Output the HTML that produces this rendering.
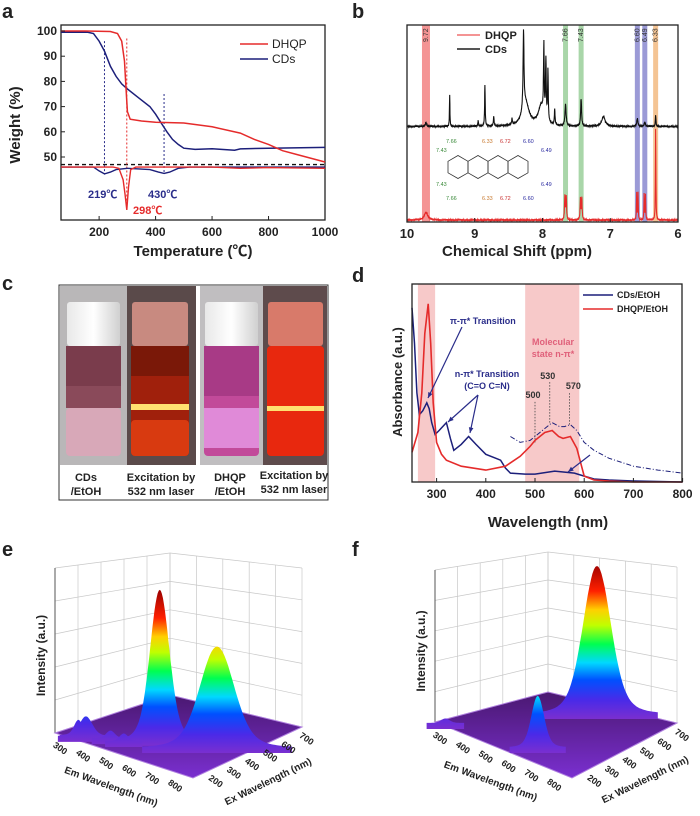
<!DOCTYPE html>
<html><head><meta charset="utf-8"><style>
html,body{margin:0;padding:0;background:#fff;}
svg{display:block;font-family:"Liberation Sans","Noto Sans CJK SC",sans-serif;}
.t{font-weight:bold;fill:#222;}
</style></head><body>
<svg id="fig" width="700" height="816" viewBox="0 0 700 816" xmlns="http://www.w3.org/2000/svg">
<defs>
<linearGradient id="capG" x1="0" x2="1"><stop offset="0" stop-color="#e8e8e8"/><stop offset="0.5" stop-color="#ffffff"/><stop offset="1" stop-color="#d0d0d0"/></linearGradient>
<linearGradient id="floorE" x1="0" y1="0" x2="0" y2="1"><stop offset="0" stop-color="#4a1870"/><stop offset="1" stop-color="#7a2fd0"/></linearGradient>
</defs>
<text class="t" x="2" y="18" font-size="20">a</text>
<text class="t" x="352" y="18" font-size="20">b</text>
<text class="t" x="2" y="290" font-size="20">c</text>
<text class="t" x="352" y="282" font-size="20">d</text>
<text class="t" x="2" y="556" font-size="20">e</text>
<text class="t" x="352" y="556" font-size="20">f</text>

<g id="pa">
<rect x="61" y="25" width="264" height="195" fill="none" stroke="#222" stroke-width="1.3"/>
<text class="t" x="20" y="125" font-size="15" transform="rotate(-90 20 125)" text-anchor="middle">Weight (%)</text>
<text class="t" x="193" y="256" font-size="15" text-anchor="middle">Temperature (℃)</text>
<line x1="240" y1="44" x2="268" y2="44" stroke="#e52b2b" stroke-width="1.5"/>
<text x="272" y="48" font-size="12" fill="#222">DHQP</text>
<line x1="240" y1="59" x2="268" y2="59" stroke="#1c1f7a" stroke-width="1.5"/>
<text x="272" y="63" font-size="12" fill="#222">CDs</text>
<text class="t" x="88" y="198" font-size="11" style="fill:#2a2d8a">219℃</text>
<text class="t" x="148" y="198" font-size="11" style="fill:#2a2d8a">430℃</text>
<text class="t" x="133" y="214" font-size="11" style="fill:#e52b2b">298℃</text>
</g>

<g id="pb">
<text class="t" x="517" y="256" font-size="15" text-anchor="middle">Chemical Shift (ppm)</text>
</g>

<g id="pc">
<rect x="59" y="285" width="269" height="215" fill="#fff" stroke="#333" stroke-width="1"/>
<rect x="60" y="286" width="67" height="179" fill="#b9b7b8"/>
<rect x="127" y="286" width="69" height="179" fill="#5a4a4a"/>
<rect x="200" y="286" width="63" height="179" fill="#c0bec0"/>
<rect x="263" y="286" width="64" height="179" fill="#5e4b4c"/>
<rect x="67" y="302" width="53" height="44" rx="3" fill="url(#capG)"/>
<rect x="66" y="346" width="55" height="40" fill="#7a3c4c"/>
<rect x="66" y="386" width="55" height="22" fill="#8a4a5a"/>
<rect x="66" y="408" width="55" height="48" rx="4" fill="#d8a8b8"/>
<rect x="132" y="302" width="56" height="44" rx="3" fill="#c88a80"/>
<rect x="131" y="346" width="58" height="110" rx="4" fill="#a0200c"/>
<rect x="131" y="346" width="58" height="30" fill="#7a1808"/>
<rect x="131" y="420" width="58" height="36" rx="4" fill="#d83a10"/>
<rect x="131" y="404" width="58" height="6" fill="#ffe070"/>
<rect x="205" y="302" width="53" height="44" rx="3" fill="url(#capG)"/>
<rect x="204" y="346" width="55" height="110" rx="4" fill="#c24a9a"/>
<rect x="204" y="346" width="55" height="50" fill="#a83a86"/>
<rect x="204" y="408" width="55" height="40" fill="#e08ad8"/>
<rect x="268" y="302" width="55" height="44" rx="3" fill="#d87a6a"/>
<rect x="267" y="346" width="57" height="110" rx="4" fill="#e8280e"/>
<rect x="267" y="406" width="57" height="5" fill="#ffe070"/>
<g font-size="11" font-weight="bold" fill="#222" text-anchor="middle">
<text x="86" y="481">CDs</text>
<text x="86" y="495">/EtOH</text>
<text x="161" y="481">Excitation by</text>
<text x="161" y="495">532 nm laser</text>
<text x="230" y="481">DHQP</text>
<text x="230" y="495">/EtOH</text>
<text x="294" y="479">Excitation by</text>
<text x="294" y="493">532 nm laser</text>
</g>
</g>

<g id="pd">
<text class="t" x="402" y="382" font-size="13" transform="rotate(-90 402 382)" text-anchor="middle">Absorbance (a.u.)</text>
<text class="t" x="548" y="527" font-size="15" text-anchor="middle">Wavelength (nm)</text>
</g>
<g id="pe"></g>
<g id="pf"></g>
</svg>
<script>
const tgaTempDHQP = [65,150,240,265,280,290,295,300,310,350,400,500,600,700,750,800,850,900,1000];
const tgaWeightDHQP = [100,100,99.8,99,96,88,78,68,65,64.3,63.8,63.5,62,59.5,57,55,52.5,51,48];
const tgaTempCDs = [65,160,180,200,219,240,260,280,300,340,380,400,420,440,460,480,500,540,600,680,700,800,1000];
const tgaWeightCDs = [99.5,99.5,99,96,92,86,82,79,77,73.5,70,67,63.5,60,57,55,53.5,53,53.3,52.7,53.2,53.5,53.8];
const dtgTempCDs = [65,180,200,219,240,260,300,380,410,430,450,480,520,1000];
const dtgValCDs = [46,46,44.5,43.3,44,45,45.5,45,44,43.5,44,45.5,46,46];
const dtgTempDHQP = [65,250,270,285,292,298,304,312,330,400,600,700,800,1000];
const dtgValDHQP = [46,46,45.5,41,35,29,38,45,46,46,46,45.5,45.8,45.5];
const tgaXTicks = [200,400,600,800,1000];
const tgaYTicks = [50,60,70,80,90,100];

const nmrCdsPpm = [9.72,9.37,8.95,8.85,8.72,8.45,8.28,8.25,7.98,7.95,7.92,8.02,7.82,7.66,7.43,7.10,6.60,6.49,6.33];
const nmrCdsInt = [0.02,0.16,0.03,0.21,0.05,0.03,0.40,0.12,0.36,0.30,0.26,0.10,0.08,0.11,0.14,0.05,0.04,0.02,0.06];
const nmrCdsWid = [0.01,0.004,0.005,0.005,0.006,0.006,0.008,0.06,0.006,0.006,0.006,0.05,0.006,0.01,0.008,0.03,0.01,0.01,0.005];
const nmrDhqpPpm = [9.72,7.67,7.65,7.44,7.42,6.61,6.59,6.50,6.48,6.33];
const nmrDhqpInt = [0.04,0.12,0.12,0.11,0.11,0.14,0.14,0.13,0.13,0.47];
const nmrDhqpWid = [0.03,0.006,0.006,0.006,0.006,0.004,0.004,0.004,0.004,0.004];
const nmrBands = [9.72,7.66,7.43,6.60,6.49,6.33];
const nmrBandColors = ['#f07070','#8cc88c','#8cc88c','#7a78c8','#7a78c8','#f0b070'];
const nmrXTicks = [10,9,8,7,6];

const absWlCDs = [250,255,260,265,272,280,285,290,297,305,320,328,335,350,365,380,400,420,430,440,450,480,500,540,580,600,620,650,700,800];
const absCDs = [0.88,0.70,0.45,0.34,0.36,0.40,0.37,0.30,0.24,0.26,0.30,0.22,0.16,0.19,0.23,0.19,0.14,0.12,0.11,0.07,0.045,0.04,0.04,0.055,0.045,0.03,0.015,0.01,0.005,0.0];
const absWlDHQP = [250,262,270,276,283,288,293,300,310,320,350,400,440,470,490,500,520,535,548,557,572,585,600,620,650,700,800];
const absDHQP = [0.15,0.25,0.45,0.75,0.90,0.70,0.40,0.20,0.14,0.11,0.08,0.06,0.08,0.13,0.18,0.21,0.25,0.26,0.23,0.22,0.23,0.17,0.03,0.01,0.005,0.0,0.0];
const absWlDash = [450,470,490,500,520,535,550,560,572,585,600,620,650,700,750,800];
const absDash = [0.23,0.20,0.21,0.23,0.27,0.30,0.28,0.28,0.29,0.26,0.20,0.16,0.12,0.08,0.06,0.045];
const absMarks = [500,530,570];
const absXTicks = [300,400,500,600,700,800];

const eEm = [556,742,320,345,420,470];
const eEx = [339,419,190,200,240,250];
const eInt = [1.0,0.67,0.10,0.13,0.05,0.05];
const eWid = [9,16,4,6,4,4];
const fEm = [606,620,280];
const fEx = [611,254,170];
const fInt = [0.98,0.34,0.03];
const fWid = [13,6,4];
const emTicks = [300,400,500,600,700,800];
const exTicks = [200,300,400,500,600,700];

const NS='http://www.w3.org/2000/svg';
function mk(tag, attrs, parent){const e=document.createElementNS(NS,tag);for(const k in attrs)e.setAttribute(k,attrs[k]);parent.appendChild(e);return e;}
function pathFrom(xs,ys,fx,fy){return xs.map((x,i)=>(i?'L':'M')+fx(x).toFixed(1)+' '+fy(ys[i]).toFixed(1)).join(' ');}

const pa=document.getElementById('pa');
const ax=t=>61+(t-65)/935*264, ay=w=>31+(100-w)*2.52;
{
let l=mk('line',{x1:61,y1:ay(47),x2:325,y2:ay(47),stroke:'#111','stroke-width':1.3,'stroke-dasharray':'4 3'},pa);


const vls=[[219,96,43,'#2a2d8a'],[298,97,29,'#e52b2b'],[430,75,43.5,'#2a2d8a']];
vls.forEach(v=>{const e=mk('line',{x1:ax(v[0]),y1:ay(v[1]),x2:ax(v[0]),y2:ay(v[2]),stroke:v[3],'stroke-width':1,'stroke-dasharray':'2 2'},pa);

});
let p=mk('path',{d:pathFrom(dtgTempCDs,dtgValCDs,ax,ay),fill:'none',stroke:'#1c1f7a','stroke-width':1.4},pa);


p=mk('path',{d:pathFrom(dtgTempDHQP,dtgValDHQP,ax,ay),fill:'none',stroke:'#e52b2b','stroke-width':1.4},pa);


p=mk('path',{d:pathFrom(tgaTempCDs,tgaWeightCDs,ax,ay),fill:'none',stroke:'#1c1f7a','stroke-width':1.5},pa);


p=mk('path',{d:pathFrom(tgaTempDHQP,tgaWeightDHQP,ax,ay),fill:'none',stroke:'#e52b2b','stroke-width':1.5},pa);


tgaXTicks.forEach(t=>{mk('line',{x1:ax(t),y1:220,x2:ax(t),y2:216,stroke:'#222'},pa);
const e=mk('text',{x:ax(t),y:236,'font-size':12,'font-weight':'bold','text-anchor':'middle',fill:'#222'},pa);e.textContent=t;

});
tgaYTicks.forEach(t=>{mk('line',{x1:61,y1:ay(t),x2:65,y2:ay(t),stroke:'#222'},pa);
const e=mk('text',{x:57,y:ay(t)+4,'font-size':12,'font-weight':'bold','text-anchor':'end',fill:'#222'},pa);e.textContent=t;

});
}

const pb=document.getElementById('pb');
const bx=p=>407+(10-p)*67.75, by=I=>222-I*195;
{
nmrBands.forEach((b,i)=>{const w=(i==0)?8:5;const r=mk('rect',{x:bx(b)-w/2,y:25,width:w,height:197,fill:nmrBandColors[i],opacity:0.75},pb);


const tx=bx(b)+2, t=mk('text',{x:tx,y:42,'font-size':7,transform:`rotate(-90 ${tx} 42)`,fill:'#333'},pb);t.textContent=b.toFixed(2);

});
function spec(ps,is,ws,off){let d='';for(let k=0;k<=1600;k++){const p=10-k*0.0025;let I=off;for(let j=0;j<ps.length;j++){const w=ws[j];I+=is[j]*w*w/((p-ps[j])**2+w*w);}
I+=0.003*Math.sin(k*1.7)*Math.cos(k*0.37);d+=(k?'L':'M')+bx(p).toFixed(1)+' '+by(I).toFixed(1);}return d;}
let p=mk('path',{d:spec(nmrCdsPpm,nmrCdsInt,nmrCdsWid,0.49),fill:'none',stroke:'#111','stroke-width':1.1},pb);


p=mk('path',{d:spec(nmrDhqpPpm,nmrDhqpInt,nmrDhqpWid,0.01),fill:'none',stroke:'#e52b2b','stroke-width':1.1},pb);


const fr=mk('rect',{x:407,y:25,width:271,height:197,fill:'none',stroke:'#222','stroke-width':1.3},pb);


nmrXTicks.forEach(t=>{mk('line',{x1:bx(t),y1:222,x2:bx(t),y2:218,stroke:'#222'},pb);
const e=mk('text',{x:bx(t),y:238,'font-size':13,'font-weight':'bold','text-anchor':'middle',fill:'#222'},pb);e.textContent=t;

});
let l=mk('line',{x1:457,y1:35,x2:480,y2:35,stroke:'#f07070','stroke-width':1.5},pb);


l=mk('line',{x1:457,y1:49,x2:480,y2:49,stroke:'#555','stroke-width':2},pb);


let t=mk('text',{x:485,y:39,'font-size':11,'font-weight':'bold',fill:'#222'},pb);t.textContent='DHQP';


t=mk('text',{x:485,y:53,'font-size':11,'font-weight':'bold',fill:'#222'},pb);t.textContent='CDs';


const mol=mk('g',{stroke:'#333','stroke-width':0.8,fill:'none'},pb);


for(let i=0;i<4;i++){const cx=458+i*20,cy=167,r=11.5;let d='';for(let k=0;k<6;k++){const a=Math.PI/6+k*Math.PI/3;d+=(k?'L':'M')+(cx+r*Math.cos(a)).toFixed(1)+' '+(cy+r*Math.sin(a)).toFixed(1);}mk('path',{d:d+'Z'},mol);}
const labs=[[446,143,'7.66','#3a8a3a'],[446,200,'7.66','#3a8a3a'],[436,152,'7.43','#3a8a3a'],[436,186,'7.43','#3a8a3a'],[482,143,'6.33','#c87a30'],[482,200,'6.33','#c87a30'],[500,143,'6.72','#c83030'],[500,200,'6.72','#c83030'],[523,143,'6.60','#2a2aa0'],[523,200,'6.60','#2a2aa0'],[541,152,'6.49','#2a2aa0'],[541,186,'6.49','#2a2aa0']];
labs.forEach(q=>{const e=mk('text',{x:q[0],y:q[1],'font-size':5.5,fill:q[3],stroke:'none'},pb);e.textContent=q[2];

});
}

const pd=document.getElementById('pd');
const dx=w=>412+(w-250)*0.492, dy=a=>482-a*198;
{
let r=mk('rect',{x:dx(262),y:284,width:dx(297)-dx(262),height:198,fill:'#f7c9c9'},pd);


r=mk('rect',{x:dx(480),y:284,width:dx(590)-dx(480),height:198,fill:'#f7c9c9'},pd);


absMarks.forEach((m,i)=>{const yb=[0.20,0.30,0.29][i];const yt=[0.41,0.505,0.455][i];
const e=mk('line',{x1:dx(m),y1:dy(yb),x2:dx(m),y2:dy(yt),stroke:'#444','stroke-width':0.8,'stroke-dasharray':'1.5 1.5'},pd);


const t=mk('text',{x:dx(m)+(i==2?4:-2),y:dy(yt)-3,'font-size':9,'font-weight':'bold','text-anchor':'middle',fill:'#333'},pd);t.textContent=m;

});
let p=mk('path',{d:pathFrom(absWlDash,absDash,dx,dy),fill:'none',stroke:'#1c1f7a','stroke-width':1,'stroke-dasharray':'5 2 1 2'},pd);


p=mk('path',{d:pathFrom(absWlCDs,absCDs,dx,dy),fill:'none',stroke:'#1c1f7a','stroke-width':1.5},pd);


p=mk('path',{d:pathFrom(absWlDHQP,absDHQP,dx,dy),fill:'none',stroke:'#e52b2b','stroke-width':1.6},pd);


const arrows=[[462,327,428,398],[478,395,448,422],[478,395,470,433],[590,455,568,472]];
arrows.forEach(a=>{const e=mk('line',{x1:a[0],y1:a[1],x2:a[2],y2:a[3],stroke:'#2a2d8a','stroke-width':1.2},pd);


const ang=Math.atan2(a[3]-a[1],a[2]-a[0]);const hx=a[2],hy=a[3];
const h=mk('path',{d:`M${hx} ${hy} L${hx-6*Math.cos(ang-0.4)} ${hy-6*Math.sin(ang-0.4)} L${hx-6*Math.cos(ang+0.4)} ${hy-6*Math.sin(ang+0.4)}Z`,fill:'#2a2d8a'},pd);

});
const txt=[[450,324,'π-π* Transition','#2a2d8a','start'],[487,377,'n-π* Transition','#2a2d8a','middle'],[487,389,'(C=O C=N)','#2a2d8a','middle'],[553,345,'Molecular','#e0607a','middle'],[553,357,'state n-π*','#e0607a','middle']];
txt.forEach(q=>{const e=mk('text',{x:q[0],y:q[1],'font-size':9,'font-weight':'bold',fill:q[3],'text-anchor':q[4]},pd);e.textContent=q[2];

});
let l=mk('line',{x1:583,y1:295,x2:613,y2:295,stroke:'#1c1f7a','stroke-width':1.5},pd);


l=mk('line',{x1:583,y1:309,x2:613,y2:309,stroke:'#e52b2b','stroke-width':1.5},pd);


let t=mk('text',{x:617,y:298,'font-size':9,'font-weight':'bold',fill:'#222'},pd);t.textContent='CDs/EtOH';


t=mk('text',{x:617,y:312,'font-size':9,'font-weight':'bold',fill:'#222'},pd);t.textContent='DHQP/EtOH';


const fr=mk('rect',{x:412,y:284,width:270,height:198,fill:'none',stroke:'#222','stroke-width':1.3},pd);


absXTicks.forEach(w=>{mk('line',{x1:dx(w),y1:482,x2:dx(w),y2:478,stroke:'#222'},pd);
const e=mk('text',{x:dx(w),y:498,'font-size':12,'font-weight':'bold','text-anchor':'middle',fill:'#222'},pd);e.textContent=w;

});
}

function surface(g,G,em,ex,inten,wid,id){
const {L,B,R,F,Ltop,Btop,Rtop}=G;
const lerp=(a,b,t)=>[a[0]+(b[0]-a[0])*t,a[1]+(b[1]-a[1])*t];
const grid=mk('g',{stroke:'#c8c8c8','stroke-width':0.7,fill:'none'},g);


for(let i=0;i<=5;i++){const a=lerp(L,B,i/5),b=lerp(Ltop,Btop,i/5);mk('line',{x1:a[0],y1:a[1],x2:b[0],y2:b[1]},grid);
const c=lerp(B,R,i/5),d=lerp(Btop,Rtop,i/5);mk('line',{x1:c[0],y1:c[1],x2:d[0],y2:d[1]},grid);
const e1=lerp(L,Ltop,i/5),e2=lerp(B,Btop,i/5),e3=lerp(R,Rtop,i/5);mk('line',{x1:e1[0],y1:e1[1],x2:e2[0],y2:e2[1]},grid);mk('line',{x1:e2[0],y1:e2[1],x2:e3[0],y2:e3[1]},grid);}
mk('line',{x1:L[0],y1:L[1],x2:Ltop[0],y2:Ltop[1],stroke:'#555','stroke-width':1},grid);
const fl=mk('polygon',{points:[L,B,R,F].map(p=>p.join(',')).join(' '),fill:'url(#floorE)',stroke:'#b080e0','stroke-width':1},g);


const proj=(m,x)=>{const u=(m-250)/600,v=(x-150)/600;return [L[0]+u*(F[0]-L[0])+v*(R[0]-F[0]),L[1]+u*(F[1]-L[1])+v*(R[1]-F[1])];};
const H=150;
const order=em.map((_,i)=>i).sort((a,b)=>proj(em[a],ex[a])[1]-proj(em[b],ex[b])[1]);
order.forEach(i=>{const [cx,cy]=proj(em[i],ex[i]);const s=wid[i];
const gr=mk('linearGradient',{id:id+'g'+i,gradientUnits:'userSpaceOnUse',x1:0,y1:cy+6,x2:0,y2:cy-H},g);
[[0,'#7a2fd0'],[0.12,'#4a2ae8'],[0.25,'#0050ff'],[0.36,'#00d8ff'],[0.48,'#00ff50'],[0.6,'#c0ff00'],[0.7,'#ffd000'],[0.82,'#ff2000'],[1,'#9a0000']].forEach(st=>mk('stop',{offset:st[0],'stop-color':st[1]},gr));
const S=s*1.8, X=2.6*S;
let d=`M${cx-X} ${cy+6}`;for(let k=0;k<=80;k++){const x=-X+k*2*X/80;const y=cy-inten[i]*H*(0.85*Math.exp(-0.5*(x/s)**2)+0.15*Math.exp(-0.5*(x/S)**2));d+=` L${(cx+x).toFixed(1)} ${y.toFixed(1)}`;}
d+=` L${cx+X} ${cy+6} Z`;
const pk=mk('path',{d:d,fill:`url(#${id}g${i})`},g);

});
emTicks.forEach(m=>{const [x,y]=proj(m,150);const tx=x-8,ty=y+14;const t=mk('text',{x:tx,y:ty,'font-size':9,'font-weight':'bold','text-anchor':'middle',fill:'#222',transform:`rotate(35 ${tx} ${ty})`},g);t.textContent=m;

});
exTicks.forEach(m=>{const [x,y]=proj(850,m);const tx=x+12,ty=y+10;const t=mk('text',{x:tx,y:ty,'font-size':9,'font-weight':'bold','text-anchor':'middle',fill:'#222',transform:`rotate(35 ${tx} ${ty})`},g);t.textContent=m;

});
const mid=lerp(L,F,0.5);
let t=mk('text',{x:mid[0]-14,y:mid[1]+34,'font-size':10,'font-weight':'bold','text-anchor':'middle',fill:'#222',transform:`rotate(20 ${mid[0]-14} ${mid[1]+34})`},g);t.textContent='Em Wavelength (nm)';


const mid2=lerp(F,R,0.5);
t=mk('text',{x:mid2[0]+22,y:mid2[1]+32,'font-size':10,'font-weight':'bold','text-anchor':'middle',fill:'#222',transform:`rotate(-26 ${mid2[0]+22} ${mid2[1]+32})`},g);t.textContent='Ex Wavelength (nm)';


const yx=L[0]-10,yy=(L[1]+Ltop[1])/2+5;
t=mk('text',{x:yx,y:yy,'font-size':12,'font-weight':'bold','text-anchor':'middle',fill:'#222',transform:`rotate(-90 ${yx} ${yy})`},g);t.textContent='Intensity (a.u.)';


}
surface(document.getElementById('pe'),{L:[55,733],B:[170,695],R:[302,727],F:[193,778],Ltop:[55,568],Btop:[170,553],Rtop:[302,568]},eEm,eEx,eInt,eWid,'e');
surface(document.getElementById('pf'),{L:[435,722],B:[548,692],R:[677,723],F:[572,778],Ltop:[435,570],Btop:[548,552],Rtop:[677,567]},fEm,fEx,fInt,fWid,'f');
</script>
</body></html>
